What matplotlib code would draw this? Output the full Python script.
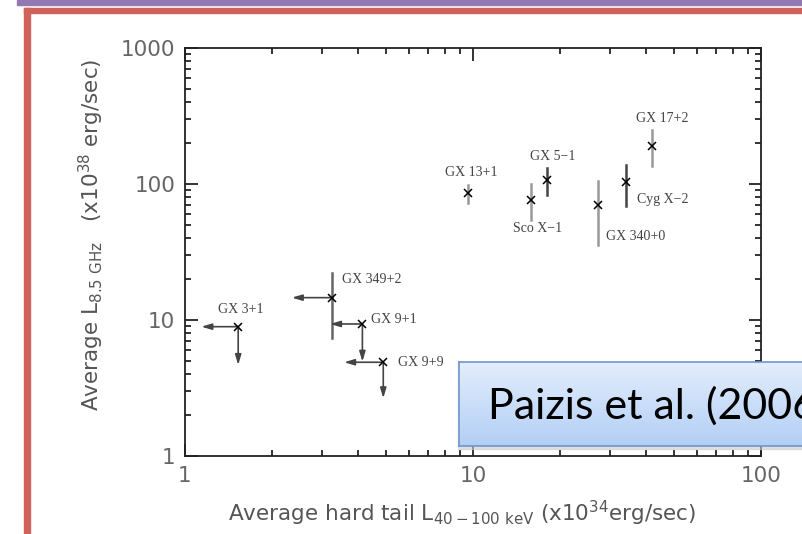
import numpy as np
import matplotlib.pyplot as plt
from matplotlib.patches import Rectangle

# sources, hard tail luminosity (x1e34 erg/s) and 8.5 GHz radio luminosity (x1e28 erg/s)
names = ['GX 3+1', 'GX 349+2', 'GX 9+1', 'GX 9+9', 'GX 13+1',
         'Sco X\u22121', 'GX 5\u22121', 'GX 340+0', 'Cyg X\u22122', 'GX 17+2']
hard_lum = [1.53, 3.23, 4.13, 4.88, 9.63, 15.9, 18.0, 27.2, 33.9, 41.9]
radio_lum = [8.93, 14.6, 9.35, 4.89, 86.3, 76.3, 107, 70.1, 104, 191]
radio_lo = [np.nan, 7.33, np.nan, np.nan, 72.1, 54.4, 83, 35.6, 68.9, 135.6]
radio_hi = [np.nan, 22.0, np.nan, np.nan, 98.3, 99.5, 131.8, 105.7, 138, 249.6]
# upper limits: where the arrows end
hard_limit_to = [1.14, 2.35, 3.19, 3.57, np.nan, np.nan, np.nan, np.nan, np.nan, np.nan]
radio_limit_to = [4.67, np.nan, 4.94, 2.66, np.nan, np.nan, np.nan, np.nan, np.nan, np.nan]

x_ticks = [1, 10, 100]
y_ticks = [1, 10, 100, 1000]

# label offsets in pixels and bar shades
label_offsets = [(-20, 17), (10, 18), (9, 4), (15, 0), (-23, 20),
                 (-18, -29), (-17, 24), (8, -32), (11, -18), (-16, 27)]
bar_colors = ['#555', '#666', '#555', '#555', '#999', '#999', '#444', '#999', '#444', '#999']

W, H = 803, 534
fig = plt.figure(figsize=(W / 100, H / 100), dpi=100)


def box(x0, y0, x1, y1):
    # pixel box (top-left origin) -> figure fractions
    return [x0 / W, 1 - y1 / H, (x1 - x0) / W, (y1 - y0) / H]


def minor_logs(major):
    # 2..9 between each pair of decades
    return [m * d for d in major[:-1] for m in range(2, 10)]


# slide frame
fig.patches.append(Rectangle((17 / W, 1 - 5 / H), 1, 5 / H, transform=fig.transFigure,
                             color='#9379b1', zorder=0))
fig.patches.append(Rectangle((24 / W, 1 - 13 / H), 1, 5 / H, transform=fig.transFigure,
                             color='#cf625b', zorder=0))
fig.patches.append(Rectangle((24 / W, 0), 6 / W, 1 - 8 / H, transform=fig.transFigure,
                             color='#cf625b', zorder=0))

ax = fig.add_axes(box(185, 48, 761, 456))
ax.set_xscale('log')
ax.set_yscale('log')

for i in range(len(names)):
    x, y = hard_lum[i], radio_lum[i]
    if not np.isnan(radio_lo[i]):
        ax.plot([x, x], [radio_lo[i], radio_hi[i]], color=bar_colors[i], lw=1.8, zorder=2)
    if not np.isnan(hard_limit_to[i]):
        ax.annotate('', xy=(hard_limit_to[i], y), xytext=(x, y),
                    arrowprops=dict(arrowstyle='-|>,head_width=0.18,head_length=0.6',
                                    color='#444', lw=1.2, shrinkA=0, shrinkB=0))
    if not np.isnan(radio_limit_to[i]):
        ax.annotate('', xy=(x, radio_limit_to[i]), xytext=(x, y),
                    arrowprops=dict(arrowstyle='-|>,head_width=0.18,head_length=0.6',
                                    color='#444', lw=1.2, shrinkA=0, shrinkB=0))
    ax.plot(x, y, marker='x', color='black', ms=6, mew=1.1, zorder=3)
    ax.annotate(names[i], (x, y), xytext=label_offsets[i], textcoords='offset pixels',
                ha='left', va='center', fontsize=10, family='Liberation Serif', color='#444')

ax.set_xticks(x_ticks)
ax.set_xticklabels([str(t) for t in x_ticks])
ax.set_yticks(y_ticks)
ax.set_yticklabels([str(t) for t in y_ticks])
ax.set_xticks(minor_logs(x_ticks), minor=True)
ax.set_yticks(minor_logs(y_ticks), minor=True)
ax.set_xticklabels([], minor=True)
ax.set_yticklabels([], minor=True)
ax.set_xlim(x_ticks[0], x_ticks[-1])
ax.set_ylim(y_ticks[0], y_ticks[-1])
ax.tick_params(which='both', direction='in', top=True, right=True,
               labelsize=15.5, labelcolor='#666', pad=7, color='#333')
ax.tick_params(which='major', length=9, width=1.4)
ax.tick_params(which='minor', length=4.5, width=1.4)
for s in ax.spines.values():
    s.set_linewidth(1.3)
    s.set_color('#222')

ax.set_xlabel(r'Average hard tail L$_{\rm 40-100\ keV}$ (x10$^{34}$erg/sec)',
              fontsize=15.5, color='#555')
ax.xaxis.set_label_coords(0.481, -0.105)
ax.set_ylabel(r'Average L$_{\rm 8.5\ GHz}$   (x10$^{38}$ erg/sec)',
              fontsize=15.5, color='#555')
ax.yaxis.set_label_coords(-0.137, 0.542)

# citation box with gradient fill and a soft shadow
fig.patches.append(Rectangle((458 / W, 1 - 449 / H), 1, 86 / H, transform=fig.transFigure,
                             color='#cccccc', alpha=0.6, zorder=4))
bx = fig.add_axes(box(459, 362, 820, 446), zorder=5)
grad = np.linspace(0, 1, 100).reshape(-1, 1)
top = np.array([0.89, 0.93, 0.99])
bot = np.array([0.70, 0.81, 0.96])
img = top + grad[..., None] * (bot - top)
bx.imshow(img, aspect='auto', extent=[0, 1, 0, 1])
bx.set_xticks([])
bx.set_yticks([])
for s in bx.spines.values():
    s.set_color('#6f96cd')
    s.set_linewidth(1.2)
# the box runs past the slide edge, so the citation is clipped there
bx.text(29 / 361, 0.47, 'Paizis et al. (2006)', fontsize=31, family='Lato',
        va='center', ha='left', color='black', transform=bx.transAxes, clip_on=True)

fig.savefig('out.png', dpi=100)
